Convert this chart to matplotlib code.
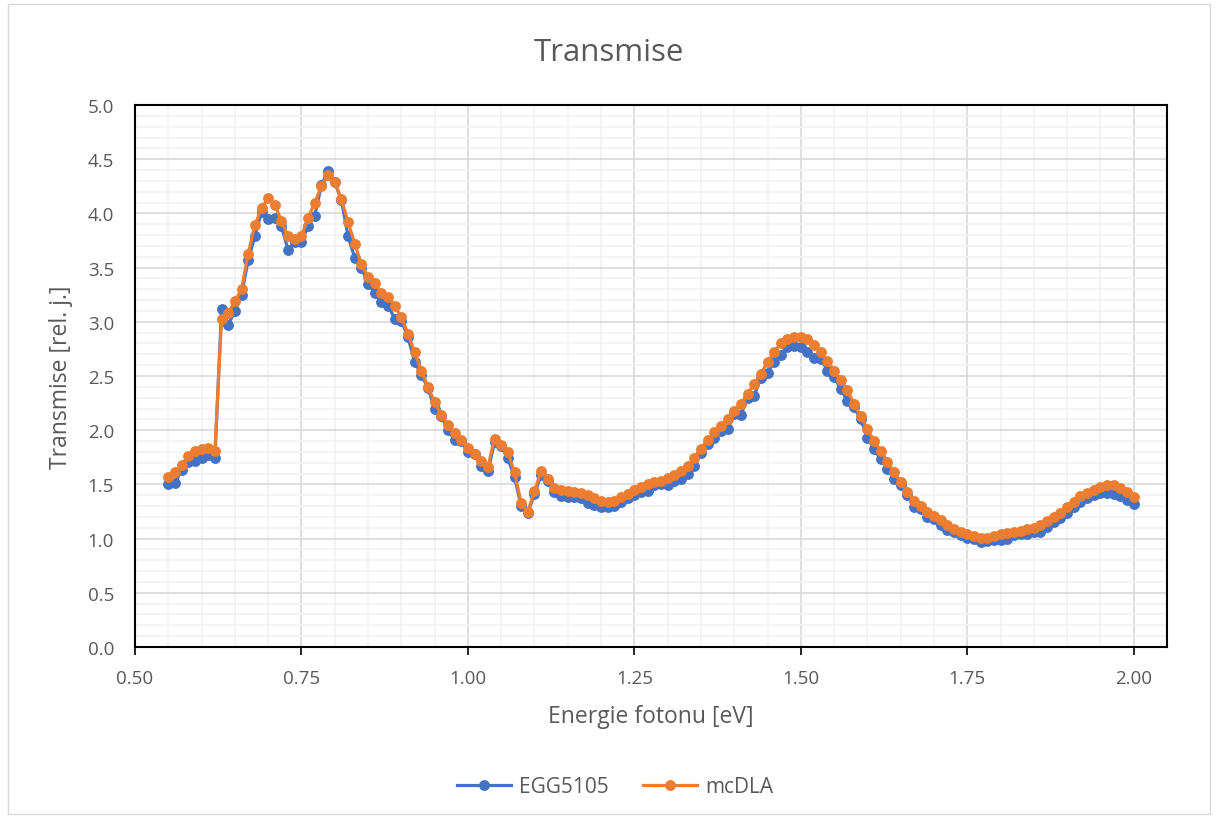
import numpy as np
import matplotlib.pyplot as plt
from matplotlib.patches import Rectangle
from matplotlib.ticker import MultipleLocator

energy = np.round(np.arange(0.55, 2.0001, 0.01), 2)

egg5105 = [
    1.50, 1.51, 1.63, 1.71, 1.72, 1.74, 1.77, 1.74, 3.12, 2.97,
    3.10, 3.25, 3.57, 3.79, 4.01, 3.95, 3.96, 3.88, 3.66, 3.74,
    3.74, 3.88, 3.98, 4.26, 4.39, 4.29, 4.12, 3.79, 3.59, 3.50,
    3.35, 3.27, 3.18, 3.15, 3.03, 3.01, 2.86, 2.63, 2.51, 2.39,
    2.20, 2.13, 2.00, 1.91, 1.90, 1.80, 1.78, 1.67, 1.62, 1.89,
    1.85, 1.74, 1.57, 1.30, 1.24, 1.41, 1.59, 1.53, 1.43, 1.39,
    1.38, 1.38, 1.37, 1.33, 1.31, 1.29, 1.29, 1.30, 1.34, 1.37,
    1.40, 1.43, 1.44, 1.49, 1.50, 1.49, 1.53, 1.55, 1.60, 1.67,
    1.79, 1.87, 1.93, 1.99, 2.01, 2.15, 2.14, 2.30, 2.32, 2.48,
    2.53, 2.63, 2.69, 2.77, 2.78, 2.77, 2.72, 2.67, 2.66, 2.55,
    2.49, 2.38, 2.27, 2.21, 2.10, 1.93, 1.83, 1.73, 1.64, 1.55,
    1.49, 1.40, 1.29, 1.27, 1.20, 1.18, 1.13, 1.08, 1.06, 1.03,
    1.01, 1.00, 0.97, 0.98, 0.99, 0.99, 1.00, 1.03, 1.04, 1.04,
    1.06, 1.06, 1.11, 1.15, 1.19, 1.24, 1.29, 1.34, 1.37, 1.40,
    1.42, 1.42, 1.41, 1.39, 1.36, 1.32,
]

mcdla = [
    1.57, 1.61, 1.68, 1.76, 1.81, 1.83, 1.84, 1.81, 3.03, 3.08,
    3.19, 3.30, 3.63, 3.89, 4.05, 4.14, 4.08, 3.93, 3.79, 3.76,
    3.79, 3.96, 4.10, 4.25, 4.35, 4.29, 4.13, 3.92, 3.72, 3.53,
    3.41, 3.36, 3.27, 3.23, 3.15, 3.04, 2.89, 2.72, 2.55, 2.40,
    2.26, 2.14, 2.05, 1.97, 1.91, 1.84, 1.78, 1.72, 1.66, 1.92,
    1.86, 1.80, 1.61, 1.33, 1.25, 1.44, 1.62, 1.55, 1.47, 1.45,
    1.44, 1.43, 1.42, 1.40, 1.37, 1.35, 1.34, 1.35, 1.38, 1.41,
    1.45, 1.48, 1.50, 1.52, 1.53, 1.56, 1.59, 1.62, 1.67, 1.74,
    1.83, 1.91, 1.98, 2.04, 2.10, 2.18, 2.24, 2.33, 2.43, 2.52,
    2.63, 2.72, 2.80, 2.84, 2.86, 2.86, 2.84, 2.79, 2.72, 2.64,
    2.55, 2.46, 2.37, 2.24, 2.13, 2.01, 1.90, 1.81, 1.71, 1.61,
    1.52, 1.43, 1.35, 1.30, 1.25, 1.21, 1.17, 1.13, 1.09, 1.06,
    1.04, 1.02, 1.01, 1.01, 1.02, 1.04, 1.05, 1.06, 1.07, 1.09,
    1.10, 1.13, 1.16, 1.20, 1.24, 1.29, 1.34, 1.39, 1.42, 1.45,
    1.48, 1.49, 1.49, 1.47, 1.43, 1.38,
]

plt.rcParams['font.family'] = ['Open Sans', 'DejaVu Sans']
text_color = '#595959'

fig = plt.figure(figsize=(12.18, 8.2), dpi=100)
fig.patches.append(Rectangle((8 / 1218, 5 / 820), 1202 / 1218, 810 / 820,
                             transform=fig.transFigure, fill=False,
                             edgecolor='#d9d9d9', linewidth=1))
ax = fig.add_axes([135 / 1218, 1 - 648 / 820, (1167 - 135) / 1218, (648 - 106) / 820])

ax.plot(energy, egg5105, color='#4472C4', lw=2.3, marker='o', ms=6.8, label='EGG5105')
ax.plot(energy, mcdla, color='#ED7D31', lw=2.3, marker='o', ms=6.8, label='mcDLA')

ax.set_xlim(0.5, 2.05)
ax.set_ylim(0, 5)
ax.xaxis.set_major_locator(MultipleLocator(0.25))
ax.xaxis.set_minor_locator(MultipleLocator(0.05))
ax.yaxis.set_major_locator(MultipleLocator(0.5))
ax.yaxis.set_minor_locator(MultipleLocator(0.1))
ax.xaxis.set_major_formatter(lambda v, p: f'{v:.2f}')
ax.yaxis.set_major_formatter(lambda v, p: f'{v:.1f}')

ax.grid(which='major', color='#d9d9d9', lw=1.2)
ax.grid(which='minor', color='#f2f2f2', lw=1.2)
ax.set_axisbelow(True)
for s in ax.spines.values():
    s.set_color('black')
    s.set_linewidth(1.5)

ax.tick_params(axis='x', which='major', direction='out', length=6, width=1.2,
               colors='black', labelcolor=text_color, labelsize=13.5, pad=10)
ax.tick_params(axis='y', which='major', length=0, labelcolor=text_color, labelsize=13.5, pad=15)
ax.tick_params(which='minor', length=0)

ax.set_xlabel('Energie fotonu [eV]', fontsize=16.5, color=text_color, labelpad=12)
ax.set_ylabel('Transmise [rel. j.]', fontsize=16.5, color=text_color, labelpad=11)
fig.text(0.5, 1 - 53 / 820, 'Transmise', ha='center', va='center', fontsize=22.5, color=text_color)

fig.legend(loc='center', bbox_to_anchor=(0.505, 1 - 788 / 820), ncol=2, frameon=False,
           fontsize=15, labelcolor=text_color, handlelength=2.6, handletextpad=0.4,
           columnspacing=1.6)

fig.savefig('out.png', dpi=100)
